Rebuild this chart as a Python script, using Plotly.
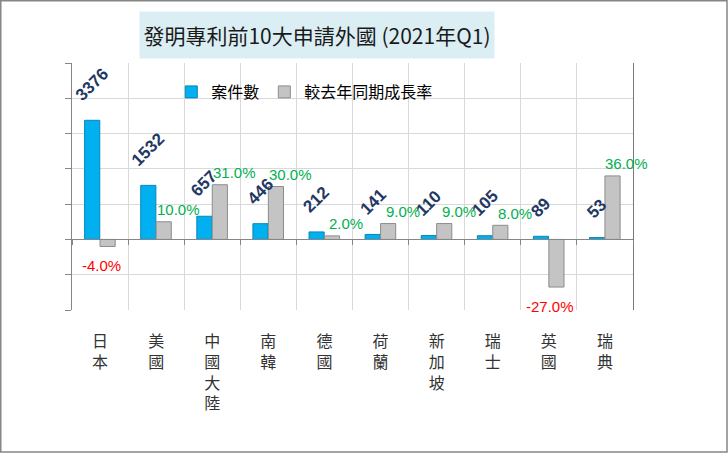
import plotly.graph_objects as go

# data
countries = ["日本", "美國", "中國大陸", "南韓", "德國", "荷蘭", "新加坡", "瑞士", "英國", "瑞典"]
cases = [3376, 1532, 657, 446, 212, 141, 110, 105, 89, 53]
growth = [-4.0, 10.0, 31.0, 30.0, 2.0, 9.0, 9.0, 8.0, -27.0, 36.0]

# stacked (vertical) tick labels
tick_text = ["<br>".join(list(c)) for c in countries]

GRID = "#D9D9D9"
AXIS = "#868686"

fig = go.Figure()

fig.add_trace(go.Bar(
    name="案件數",
    x=countries, y=cases,
    xaxis="x", yaxis="y",
    width=0.27, offset=-0.275,
    marker=dict(color="#00B0F0", line=dict(color="#0A86B4", width=1)),
))

fig.add_trace(go.Bar(
    name="較去年同期成長率",
    x=countries, y=growth,
    xaxis="x2", yaxis="y2",
    width=0.27, offset=0.0,
    marker=dict(color="#C4C4C4", line=dict(color="#8C8C8C", width=1)),
))

annotations = []

# case-count labels, rotated, above the blue bars
for c, n in zip(countries, cases):
    annotations.append(dict(
        x=c, y=n, xref="x", yref="y",
        text=str(n), textangle=-45,
        showarrow=False,
        xanchor="center", yanchor="bottom",
        xshift=-8, yshift=13,
        font=dict(family="Liberation Sans, Arial", size=17, color="#1F3864", weight="bold"),
    ))

# growth labels
for c, g in zip(countries, growth):
    pos = g >= 0
    annotations.append(dict(
        x=c, y=g, xref="x2", yref="y2",
        text=f"{g:.1f}%",
        showarrow=False,
        xshift=22 if pos else 1,
        yshift=12 if pos else -19,
        yanchor="middle",
        font=dict(family="Liberation Sans, Arial", size=15, color="#00B050" if pos else "#FF0000"),
    ))

# title box
annotations.append(dict(
    x=0.4367, y=1.113, xref="paper", yref="paper",
    xanchor="center", yanchor="middle",
    text="發明專利前10大申請外國 (2021年Q1)",
    showarrow=False,
    width=354, height=46, borderpad=0,
    bgcolor="#DBEEF4",
    font=dict(family="Noto Sans CJK TC", size=21, color="#1A1A1A"),
))

fig.update_layout(
    width=728, height=453,
    margin=dict(l=72, r=95, t=63, b=143),
    paper_bgcolor="white",
    plot_bgcolor="white",
    showlegend=True,
    legend=dict(
        orientation="h",
        x=0.177, y=0.8826, xanchor="left", yanchor="middle",
        bgcolor="rgba(0,0,0,0)",
        font=dict(family="Noto Sans CJK TC", size=16, color="#000000"),
        itemclick=False,
    ),
    xaxis=dict(
        type="category",
        categoryorder="array", categoryarray=countries,
        tickvals=countries, ticktext=tick_text,
        tickson="boundaries",
        showgrid=True, gridcolor=GRID, gridwidth=1,
        ticks="", showline=False, zeroline=False,
        ticklabelstandoff=20,
        tickfont=dict(family="Noto Sans CJK TC", size=16, color="#333333"),
        range=[-0.5, 9.5],
    ),
    xaxis2=dict(
        type="category",
        categoryorder="array", categoryarray=countries,
        overlaying="x", anchor="free", position=2000 / 7000,
        tickson="boundaries",
        showgrid=False, showticklabels=False,
        ticks="outside", ticklen=5, tickcolor=AXIS,
        showline=True, linecolor=AXIS, linewidth=1,
        range=[-0.5, 9.5],
    ),
    yaxis=dict(
        range=[-2000, 5000], dtick=1000,
        showgrid=True, gridcolor=GRID, gridwidth=1,
        showticklabels=False,
        ticks="outside", ticklen=6, tickcolor=AXIS,
        showline=True, linecolor=AXIS, linewidth=1,
        zeroline=True, zerolinecolor=AXIS, zerolinewidth=1,
    ),
    yaxis2=dict(
        range=[-40, 100], overlaying="y", side="right",
        showgrid=False, showticklabels=False, ticks="",
        showline=True, linecolor="#7A7A7A", linewidth=1,
        zeroline=False,
    ),
    annotations=annotations,
    shapes=[dict(
        type="rect", xref="paper", yref="paper",
        x0=(0.75 - 72) / 561, x1=(727 - 72) / 561,
        y0=(310 - 452) / 247, y1=(310 - 0.75) / 247,
        line=dict(color=AXIS, width=1.5), fillcolor="rgba(0,0,0,0)",
        layer="below",
    )],
)

# drop the default page margin so the chart sits at the window's corner
fig.write_html(
    "out.html",
    config={"displayModeBar": False},
    post_script="document.body.style.margin='0';",
)
